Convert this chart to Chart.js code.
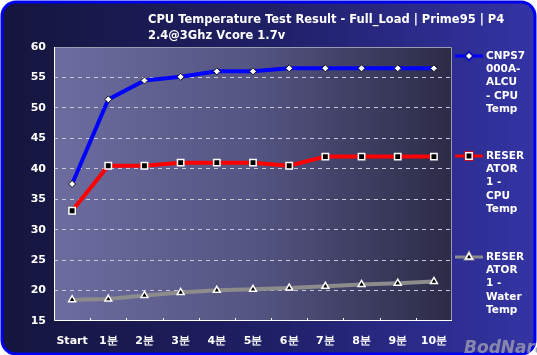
<!DOCTYPE html>
<html>
<head>
<meta charset="utf-8">
<script src="https://cdn.jsdelivr.net/npm/chart.js@4.4.1/dist/chart.umd.min.js"></script>
<style>
  html, body { margin: 0; padding: 0; background: #ffffff; }
  canvas { display: block; }
</style>
</head>
<body>
<canvas id="grafica" width="537" height="355"></canvas>
<script>
// Datos
const categorias = ["Start", "1분", "2분", "3분", "4분", "5분", "6분", "7분", "8분", "9분", "10분"];
const cnpsCpu = [37.5, 51.4, 54.5, 55.1, 56.0, 56.0, 56.5, 56.5, 56.5, 56.5, 56.5];
const reseratorCpu = [33.1, 40.5, 40.5, 41.0, 41.0, 41.0, 40.5, 42.0, 42.0, 42.0, 42.0];
const reseratorWater = [18.5, 18.6, 19.2, 19.7, 20.05, 20.2, 20.4, 20.7, 21.0, 21.2, 21.5];
const nombresSeries = ["CNPS7000A-ALCU - CPU Temp", "RESERATOR 1 - CPU Temp", "RESERATOR 1 - Water Temp"];
const lineasLeyenda = [
  ["CNPS7", "000A-", "ALCU", "- CPU", "Temp"],
  ["RESER", "ATOR", "1 -", "CPU", "Temp"],
  ["RESER", "ATOR", "1 -", "Water", "Temp"]
];
const tituloLineas = ["CPU Temperature Test Result - Full_Load | Prime95 | P4", "2.4@3Ghz Vcore 1.7v"];
const yMin = 15;
const yMax = 60;
const yPaso = 5;

const FUENTE = "'DejaVu Sans', 'Liberation Sans', sans-serif";

// Fondo, marco y elementos dibujados a mano
const decoracion = {
  id: "decoracion",
  beforeDraw(chart) {
    const ctx = chart.ctx;
    const w = chart.width, h = chart.height;
    const a = chart.chartArea;
    ctx.save();
    ctx.fillStyle = "#ffffff";
    ctx.fillRect(0, 0, w, h);
    // marco redondeado con borde azul
    const grad = ctx.createLinearGradient(0, 0, w, 0);
    grad.addColorStop(0, "#15153d");
    grad.addColorStop(0.5, "#1f1f66");
    grad.addColorStop(1, "#3434a6");
    ctx.beginPath();
    ctx.roundRect(2, 2, w - 4, h - 3, 14);
    ctx.fillStyle = grad;
    ctx.fill();
    ctx.lineWidth = 3;
    ctx.strokeStyle = "#0000f0";
    ctx.stroke();
    // área del gráfico
    const g2 = ctx.createLinearGradient(a.left, 0, a.right, 0);
    g2.addColorStop(0, "#6c6c9f");
    g2.addColorStop(0.5, "#555583");
    g2.addColorStop(1, "#2b2b47");
    ctx.fillStyle = g2;
    ctx.fillRect(a.left, a.top, a.right - a.left, a.bottom - a.top);
    ctx.restore();
  },
  afterDraw(chart) {
    const ctx = chart.ctx;
    const a = chart.chartArea;
    ctx.save();
    // borde del área
    ctx.lineWidth = 1;
    ctx.strokeStyle = "#9a9ab0";
    ctx.beginPath();
    ctx.moveTo(a.left + 0.5, a.top + 0.5);
    ctx.lineTo(a.right - 0.5, a.top + 0.5);
    ctx.lineTo(a.right - 0.5, a.bottom);
    ctx.stroke();
    ctx.strokeStyle = "#ffffff";
    ctx.beginPath();
    ctx.moveTo(a.left + 0.5, a.top);
    ctx.lineTo(a.left + 0.5, a.bottom - 0.5);
    ctx.lineTo(a.right, a.bottom - 0.5);
    ctx.stroke();
    // marcas del eje x entre categorías
    const paso = (a.right - a.left) / categorias.length;
    ctx.beginPath();
    for (let i = 1; i < categorias.length; i++) {
      const x = Math.round(a.left + paso * i) + 0.5;
      ctx.moveTo(x, a.bottom - 3);
      ctx.lineTo(x, a.bottom);
    }
    ctx.stroke();
    // título
    ctx.fillStyle = "#ffffff";
    ctx.font = "bold 11.5px " + FUENTE;
    ctx.textBaseline = "alphabetic";
    ctx.textAlign = "left";
    ctx.fillText(tituloLineas[0], 148, 23);
    ctx.fillText(tituloLineas[1], 148, 39);
    // leyenda
    const posY = [56, 156, 257];
    chart.data.datasets.forEach((ds, i) => {
      const y = posY[i];
      ctx.strokeStyle = ds.borderColor;
      ctx.lineWidth = 3;
      ctx.beginPath();
      ctx.moveTo(455, y);
      ctx.lineTo(483, y);
      ctx.stroke();
      Chart.helpers.drawPoint(ctx, {
        pointStyle: ds.pointStyle,
        radius: ds.pointRadius,
        borderWidth: ds.pointBorderWidth,
        rotation: 0
      }, 469, y);
      ctx.fillStyle = ds.pointBackgroundColor;
      ctx.strokeStyle = ds.pointBorderColor;
      ctx.lineWidth = ds.pointBorderWidth;
      ctx.fill();
      ctx.stroke();
      ctx.fillStyle = "#ffffff";
      ctx.font = "bold 10.5px " + FUENTE;
      ctx.textBaseline = "middle";
      lineasLeyenda[i].forEach((t, k) => {
        ctx.fillText(t, 486, y + k * 13.3);
      });
    });
    // marca de agua
    ctx.font = "bold italic 17px " + FUENTE;
    ctx.fillStyle = "rgba(150,150,175,0.85)";
    ctx.textBaseline = "alphabetic";
    ctx.fillText("BodNara", 464, 353);
    ctx.restore();
  }
};

const ctxGrafica = document.getElementById("grafica").getContext("2d");
const grafica = new Chart(ctxGrafica, {
  type: "line",
  data: {
    labels: categorias,
    datasets: [
      {
        label: nombresSeries[0],
        data: cnpsCpu,
        borderColor: "#0000ff",
        borderWidth: 4,
        pointStyle: "rectRot",
        pointRadius: 3.5,
        pointBackgroundColor: "#ffffff",
        pointBorderColor: "#111111",
        pointBorderWidth: 1
      },
      {
        label: nombresSeries[1],
        data: reseratorCpu,
        borderColor: "#ff0000",
        borderWidth: 4,
        pointStyle: "rect",
        pointRadius: 4.5,
        pointBackgroundColor: "#000000",
        pointBorderColor: "#ffffff",
        pointBorderWidth: 1.5
      },
      {
        label: nombresSeries[2],
        data: reseratorWater,
        borderColor: "#8c8c8c",
        borderWidth: 4,
        pointStyle: "triangle",
        pointRadius: 4,
        pointBackgroundColor: "#000000",
        pointBorderColor: "#ffffff",
        pointBorderWidth: 1.5
      }
    ]
  },
  options: {
    responsive: false,
    animation: false,
    layout: { padding: { top: 47, right: 85, left: 0, bottom: 0 } },
    plugins: {
      legend: { display: false },
      title: { display: false },
      tooltip: { enabled: false }
    },
    scales: {
      x: {
        offset: true,
        grid: { display: false },
        border: { display: false },
        ticks: {
          color: "#ffffff",
          font: { family: FUENTE, size: 11, weight: "bold" },
          padding: 6,
          maxRotation: 0,
          autoSkip: false
        },
        afterFit(s) { s.height = 34; }
      },
      y: {
        min: yMin,
        max: yMax,
        border: { display: false, dash: [4, 4] },
        grid: {
          color: (c) => (c.tick && (c.tick.value === yMin || c.tick.value === yMax)) ? "rgba(0,0,0,0)" : "#c8c8d8",
          lineWidth: 1,
          drawTicks: false
        },
        ticks: {
          stepSize: yPaso,
          color: "#ffffff",
          font: { family: FUENTE, size: 11, weight: "bold" },
          padding: 8
        },
        afterFit(s) { s.width = 54; }
      }
    }
  },
  plugins: [decoracion]
});
</script>
</body>
</html>
